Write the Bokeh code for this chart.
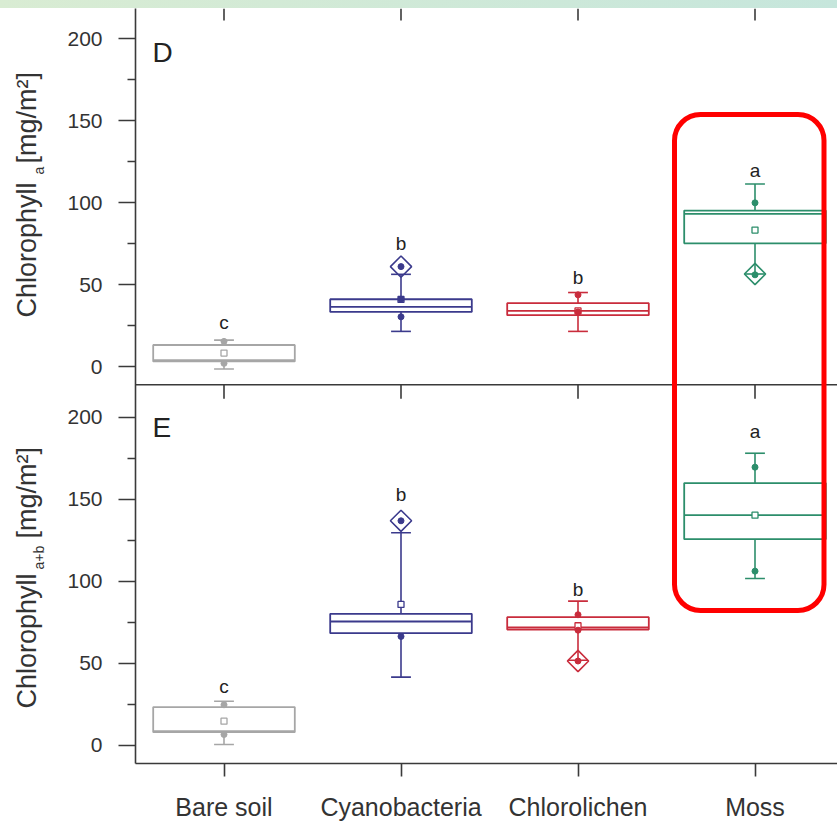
import math
from bokeh.plotting import figure
from bokeh.layouts import column, row
from bokeh.models import (Range1d, FixedTicker, Label, BoxAnnotation, Span,
                          ColumnDataSource, Div)
from bokeh.embed import file_html
from bokeh.resources import INLINE
from bokeh.core.properties import value

# ---------------- data ----------------
categories = ["Bare soil", "Cyanobacteria", "Chlorolichen", "Moss"]
colors = ["#a6a6a6", "#3b3a8c", "#c92c3c", "#2c8e6b"]

# Panel D : Chlorophyll a [mg/m2]
d_low = [-1.4, 21.5, 21.5, 56.5]
d_q1 = [3.2, 33.4, 31.4, 75.2]
d_med = [4.0, 36.5, 34.0, 93.2]
d_q3 = [13.2, 41.1, 38.7, 95.2]
d_high = [16.2, 56.3, 45.2, 111.4]
d_mean = [8.3, 41.0, 34.0, 83.3]
d_points = [[15.4, 2.0], [61.0, 41.1, 30.4], [43.8, 33.4], [99.9, 56.0]]
d_outliers = [[], [61.0], [], [56.5]]
d_letters = ["c", "b", "b", "a"]
d_letter_y = [23.1, 71.7, 50.6, 116.1]

# Panel E : Chlorophyll a+b [mg/m2]
e_low = [0.6, 41.7, 52.0, 101.8]
e_q1 = [8.1, 68.5, 70.7, 125.8]
e_med = [8.8, 75.6, 72.0, 140.4]
e_q3 = [23.4, 80.3, 78.2, 160.0]
e_high = [27.0, 129.7, 88.0, 178.2]
e_mean = [14.8, 86.0, 73.0, 140.4]
e_points = [[24.8, 6.7], [137.0, 66.5], [79.7, 70.3, 51.5], [169.7, 106.3]]
e_outliers = [[], [137.0], [51.5], []]
e_letters = ["c", "b", "b", "a"]
e_letter_y = [32.3, 149.4, 91.5, 187.8]

y_ticks = [0, 50, 100, 150, 200]
y_minor = [25, 75, 125, 175]

# ---------------- layout ----------------
FONT = "Liberation Sans"
AXIS_COLOR = "#3a3a3a"
TEXT_COLOR = "#333333"
PAGE_W, PAGE_H = 837, 829
STRIP_H = 8
LEFT_W = 60
MAIN_W = PAGE_W - LEFT_W
MAIN_H = PAGE_H - STRIP_H
FRAME_X0 = 135                 # page x of the plot frame's left edge
FRAME_Y1 = 763                 # page y of the plot frame's bottom edge
BORDER_L = FRAME_X0 - LEFT_W
BORDER_B = PAGE_H - FRAME_Y1
X_LO = 0.5
PX_X = 177.0
X_HI = X_LO + (PAGE_W - FRAME_X0) / PX_X
Y_LO, Y_HI = -11.0, 449.4
D_SHIFT = 231                   # panel D sits above panel E
PX_Y = (MAIN_H - BORDER_B) / (Y_HI - Y_LO)
BOX_HALF = 0.4
CAP_HALF = 0.056


def sx(px):
    return X_LO + (px - FRAME_X0) / PX_X


def sy(py):
    return Y_HI - (py - STRIP_H) / PX_Y


# thin coloured strip at the very top (page background of the source)
strip = Div(text="", width=PAGE_W, height=STRIP_H, margin=0,
            styles={"background": "linear-gradient(to right, #d9ecd3, #c6e6dc)"})

# left strip holding the rotated y titles (page pixel coordinates)
left = figure(width=LEFT_W, height=MAIN_H, output_backend="svg",
              toolbar_location=None, x_axis_type=None, y_axis_type=None,
              min_border_left=0, min_border_right=0, min_border_top=0,
              min_border_bottom=BORDER_B,
              x_range=Range1d(0, LEFT_W), y_range=Range1d(FRAME_Y1, STRIP_H))
left.outline_line_color = None
left.grid.visible = False
left.background_fill_color = "white"
left.border_fill_color = "white"


def ytitle(main_py, sub, sub_py, unit_py):
    left.text(x=[26], y=[main_py], text=["Chlorophyll"], angle=math.pi / 2,
              text_font=value(FONT), text_font_size="27px", text_align="left",
              text_baseline="middle", text_color=TEXT_COLOR)
    left.text(x=[38], y=[sub_py], text=[sub], angle=math.pi / 2,
              text_font=value(FONT), text_font_size="14px", text_align="left",
              text_baseline="middle", text_color=TEXT_COLOR)
    left.text(x=[26], y=[unit_py], text=["[mg/m²]"], angle=math.pi / 2,
              text_font=value(FONT), text_font_size="27px", text_align="left",
              text_baseline="middle", text_color=TEXT_COLOR)


ytitle(317, "a", 174, 163)
ytitle(708, "a+b", 569, 538)

# main plot
p = figure(width=MAIN_W, height=MAIN_H, output_backend="svg", toolbar_location=None,
           x_range=Range1d(X_LO, X_HI), y_range=Range1d(Y_LO, Y_HI),
           min_border_left=BORDER_L, min_border_right=0, min_border_top=0,
           min_border_bottom=BORDER_B)
p.extra_y_ranges = {"D": Range1d(Y_LO - D_SHIFT, Y_HI - D_SHIFT)}
p.grid.visible = False
p.outline_line_color = None
p.background_fill_color = "white"
p.border_fill_color = "white"

xs = list(range(1, len(categories) + 1))

# x axis
xa = p.xaxis[0]
xa.ticker = FixedTicker(ticks=xs)
xa.major_label_overrides = {x: c for x, c in zip(xs, categories)}
xa.major_tick_out = 13
xa.major_tick_in = 0
xa.minor_tick_out = 0
xa.minor_tick_in = 0
xa.axis_line_color = AXIS_COLOR
xa.axis_line_width = 1.6
xa.major_tick_line_color = AXIS_COLOR
xa.major_tick_line_width = 1.6
xa.major_label_text_font = FONT
xa.major_label_text_font_size = "25px"
xa.major_label_text_color = TEXT_COLOR
xa.major_label_standoff = 16

# y axis (both panels on one axis)
ya = p.yaxis[0]
major = y_ticks + [t + D_SHIFT for t in y_ticks]
minor = y_minor + [t + D_SHIFT for t in y_minor]
ya.ticker = FixedTicker(ticks=major, minor_ticks=minor)
ov = {t: str(t) for t in y_ticks}
ov.update({t + D_SHIFT: str(t) for t in y_ticks})
ya.major_label_overrides = ov
ya.major_tick_out = 17
ya.major_tick_in = 0
ya.minor_tick_out = 8
ya.minor_tick_in = 0
ya.axis_line_color = AXIS_COLOR
ya.axis_line_width = 1.6
ya.major_tick_line_color = AXIS_COLOR
ya.major_tick_line_width = 1.6
ya.minor_tick_line_color = AXIS_COLOR
ya.minor_tick_line_width = 1.6
ya.major_label_text_font = FONT
ya.major_label_text_font_size = "21px"
ya.major_label_text_color = TEXT_COLOR
ya.major_label_standoff = 16

# divider between panels and inner ticks
div_y = Y_LO + D_SHIFT
p.add_layout(Span(location=div_y, dimension="width", line_color=AXIS_COLOR,
                  line_width=1.6))
p.segment(x0=xs, x1=xs, y0=[div_y] * 4, y1=[div_y - 14 / PX_Y] * 4,
          line_color=AXIS_COLOR, line_width=1.6)
p.segment(x0=xs, x1=xs, y0=[Y_HI] * 4, y1=[Y_HI - 12 / PX_Y] * 4,
          line_color=AXIS_COLOR, line_width=1.6)


def draw_panel(rng, low, q1, med, q3, high, mean, points, outliers, letters, letter_y):
    src = ColumnDataSource(dict(
        x=xs, l=[x - BOX_HALF for x in xs], r=[x + BOX_HALF for x in xs],
        cl=[x - CAP_HALF for x in xs], cr=[x + CAP_HALF for x in xs],
        low=low, q1=q1, med=med, q3=q3, high=high, mean=mean,
        color=colors, letter=letters, ly=letter_y))
    # whiskers
    p.segment(x0="x", x1="x", y0="q3", y1="high", source=src, line_color="color",
              line_width=1.6, y_range_name=rng)
    p.segment(x0="x", x1="x", y0="q1", y1="low", source=src, line_color="color",
              line_width=1.6, y_range_name=rng)
    p.segment(x0="cl", x1="cr", y0="high", y1="high", source=src, line_color="color",
              line_width=1.6, y_range_name=rng)
    p.segment(x0="cl", x1="cr", y0="low", y1="low", source=src, line_color="color",
              line_width=1.6, y_range_name=rng)
    # box + median
    p.quad(left="l", right="r", bottom="q1", top="q3", source=src, fill_color=None,
           line_color="color", line_width=1.8, y_range_name=rng)
    p.segment(x0="l", x1="r", y0="med", y1="med", source=src, line_color="color",
              line_width=1.8, y_range_name=rng)
    # mean
    p.scatter(x="x", y="mean", source=src, marker="square", size=6,
              fill_color="white", line_color="color", line_width=1.3,
              y_range_name=rng)
    # individual points
    px_, py_, pc_ = [], [], []
    for i, lst in enumerate(points):
        for v in lst:
            px_.append(xs[i]); py_.append(v); pc_.append(colors[i])
    p.scatter(x=px_, y=py_, marker="circle", size=6, fill_color=pc_,
              line_color=pc_, y_range_name=rng)
    # outliers
    ox_, oy_, oc_ = [], [], []
    for i, lst in enumerate(outliers):
        for v in lst:
            ox_.append(xs[i]); oy_.append(v); oc_.append(colors[i])
    if ox_:
        p.scatter(x=ox_, y=oy_, marker="square", angle=math.pi / 4, size=15,
                  fill_color=None, line_color=oc_, line_width=1.6,
                  y_range_name=rng)
    # significance letters
    p.text(x="x", y="ly", text="letter", source=src, text_font=value(FONT),
           text_font_size="19px", text_align="center", text_baseline="alphabetic",
           y_offset=-6, text_color="#222222", y_range_name=rng)


draw_panel("D", d_low, d_q1, d_med, d_q3, d_high, d_mean, d_points, d_outliers,
           d_letters, d_letter_y)
draw_panel("default", e_low, e_q1, e_med, e_q3, e_high, e_mean, e_points,
           e_outliers, e_letters, e_letter_y)

# highlight around Moss
p.add_layout(BoxAnnotation(left=sx(674), right=sx(823.5), top=sy(114),
                           bottom=sy(610), fill_color=None, fill_alpha=0,
                           line_color="#ff0000", line_alpha=1.0,
                           line_width=5, border_radius=26))

# panel letters
for txt, py in (("D", 52), ("E", 427)):
    p.add_layout(Label(x=sx(152), y=sy(py), text=txt, text_font=FONT,
                       text_font_size="28px", text_baseline="middle",
                       text_align="left", text_color="#222222"))

layout = column(strip, row(left, p, spacing=0), spacing=0)
open("out.html", "w").write(file_html(layout, INLINE))
